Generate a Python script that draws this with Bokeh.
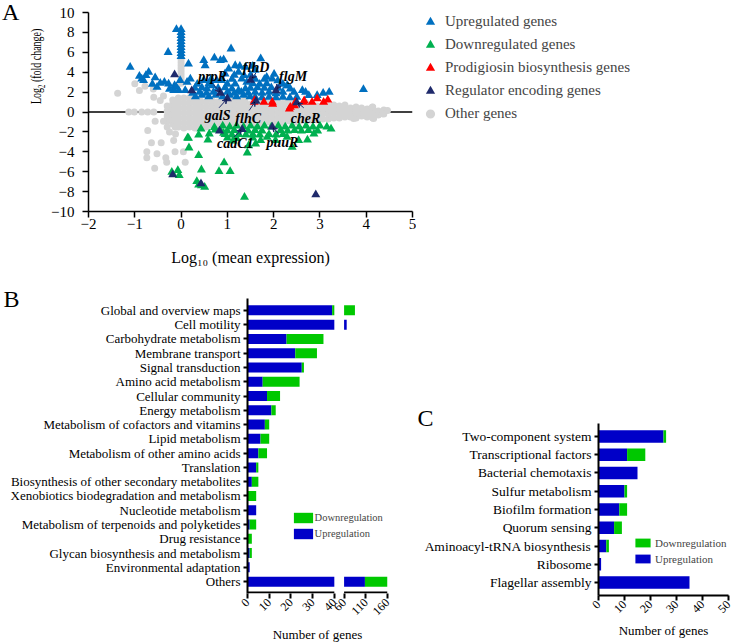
import math
from bokeh.plotting import figure
from bokeh.models import (Range1d, FactorRange, FixedTicker, Legend, LegendItem, Label,
                          Arrow, VeeHead, ColumnDataSource, Span, Spacer, Div)
from bokeh.layouts import column, row
from bokeh.embed import file_html
from bokeh.resources import INLINE

FONT = "Liberation Serif"
UP_C, DOWN_C, RED_C, NAVY_C, GREY_C = "#0070C0", "#00B050", "#FF0000", "#1F2A6B", "#D4D4D4"
BAR_UP, BAR_DOWN = "#0000C8", "#00C800"

# ---------------- Panel A data (log10 mean expression, log2 fold change) ----------------
other_cols_x = [-0.30, -0.18, -0.06, 0.06, 0.18, 0.30, 0.42, 0.54, 0.66, 0.78, 0.90, 1.02,
                1.14, 1.26, 1.38, 1.50, 1.62, 1.74, 1.86, 1.98, 2.10, 2.22, 2.34, 2.46,
                2.58, 2.70, 2.82, 2.94, 3.06, 3.18, 3.30, 3.42, 3.54, 3.66, 3.78, 3.90,
                4.02, 4.14, 4.26, 4.38]
other_cols_y = [
    [-0.9, -0.4, 0.1, 0.6], [-1.2, -0.7, -0.2, 0.3, 0.8, 1.2],
    [-1.5, -1.0, -0.5, 0.0, 0.5, 1.0, 1.4], [-1.6, -1.1, -0.6, -0.1, 0.4, 0.9, 1.4],
    [-1.5, -1.0, -0.5, 0.0, 0.5, 1.0, 1.4], [-1.6, -1.1, -0.6, -0.1, 0.4, 0.9, 1.3],
    [-1.4, -0.9, -0.4, 0.1, 0.6, 1.1], [-1.5, -1.0, -0.5, 0.0, 0.5, 1.0],
    [-1.3, -0.8, -0.3, 0.2, 0.7, 1.2], [-1.5, -1.0, -0.5, 0.0, 0.5, 1.0],
    [-1.3, -0.8, -0.3, 0.2, 0.7, 1.2], [-1.4, -0.9, -0.4, 0.1, 0.6, 1.1],
    [-1.2, -0.7, -0.2, 0.3, 0.8, 1.2], [-1.3, -0.8, -0.3, 0.2, 0.7, 1.1],
    [-1.1, -0.6, -0.1, 0.4, 0.9, 1.2], [-1.2, -0.7, -0.2, 0.3, 0.8],
    [-1.1, -0.6, -0.1, 0.4, 0.9], [-1.2, -0.7, -0.2, 0.3, 0.8, 1.1],
    [-1.0, -0.5, 0.0, 0.5, 1.0], [-1.1, -0.6, -0.1, 0.4, 0.9],
    [-1.0, -0.5, 0.0, 0.5, 1.0], [-1.1, -0.6, -0.1, 0.4, 0.9],
    [-0.9, -0.4, 0.1, 0.6, 1.0], [-1.0, -0.5, 0.0, 0.5, 0.9],
    [-0.9, -0.4, 0.1, 0.6], [-0.9, -0.4, 0.1, 0.5, 0.9],
    [-0.8, -0.3, 0.2, 0.7], [-0.8, -0.3, 0.1, 0.6],
    [-0.7, -0.2, 0.3, 0.7], [-0.7, -0.2, 0.2, 0.6],
    [-0.6, -0.1, 0.3, 0.7], [-0.6, -0.2, 0.2, 0.6],
    [-0.5, -0.1, 0.3, 0.7], [-0.5, 0.0, 0.4],
    [-0.6, -0.2, 0.2, 0.5], [-0.4, 0.0, 0.4],
    [-0.5, -0.1, 0.3], [-0.6, -0.2, 0.2, 0.5],
    [-0.3, 0.1], [-0.2, 0.2]]
other_extra = [(-1.37, 1.88), (-1.00, 2.85), (-0.90, 2.15), (-0.78, 2.60), (-0.60, 2.30),
               (-0.59, 1.49), (-0.45, 1.16), (-0.38, 1.60),
               (-1.13, 0.0), (-1.01, 0.0), (-0.85, 0.0), (-0.72, 0.0), (-0.59, 0.0),
               (-0.56, -0.92), (-0.38, -0.92), (-0.72, -1.86), (-0.13, -1.50), (-0.12, -2.20),
               (-0.64, -3.10), (-0.43, -3.10), (-0.74, -4.00), (-0.74, -4.60), (-0.52, -4.20),
               (-0.33, -4.60), (-0.13, -4.00), (-0.31, -5.05), (0.09, -5.05), (-0.57, -5.65),
               (0.05, -4.00), (-0.16, -2.86), (-0.30, -1.50), (-0.25, -2.00),
               (4.46, 0.15), (4.35, -0.18), (4.16, -0.65), (4.13, 0.48), (3.73, -0.65),
               (0.0, 2.9), (0.0, 3.2), (0.0, 3.5), (0.0, 3.8), (0.0, 4.1), (0.0, 4.4),
               (0.0, 4.7), (0.0, 5.0), (0.0, 5.3)]

up_pts = [(-0.10, 8.3), (0.00, 8.3), (0.00, 8.0), (0.00, 7.7), (0.00, 7.4), (0.00, 7.1),
          (0.00, 6.8), (0.00, 6.5), (0.00, 6.2), (0.00, 5.9), (0.00, 5.6),
          (-1.10, 4.5), (-0.28, 6.0), (-0.85, 3.33), (-0.76, 3.67), (-0.70, 4.0), (-0.81, 3.17),
          (-0.56, 3.44), (-0.52, 2.5), (-0.36, 3.0), (-0.27, 2.83), (-0.14, 2.66), (-0.02, 3.17),
          (0.13, 3.0), (0.20, 3.33), (0.16, 4.84), (0.49, 5.18), (0.52, 4.67), (0.72, 5.44),
          (0.85, 5.18), (0.92, 5.25), (1.08, 6.35), (0.49, 3.17), (0.56, 2.33), (0.67, 2.66),
          (0.77, 3.17), (0.88, 3.17), (0.95, 3.84), (1.03, 4.34), (1.17, 4.67), (1.24, 4.0),
          (1.39, 4.5), (1.42, 3.0), (1.31, 3.33), (1.17, 2.83), (1.10, 2.33), (1.24, 2.16),
          (1.39, 2.33), (-0.05, 2.16), (-0.16, 2.16), (0.09, 2.16),
          (-0.45, 2.9), (-0.62, 2.8), (-0.90, 3.6), (-0.25, 2.3), (-0.10, 2.5),
          (1.72, 5.35), (1.36, 3.67), (1.85, 3.5), (1.97, 3.33), (2.29, 2.66), (2.36, 2.33),
          (2.44, 2.0), (2.62, 2.16), (2.69, 2.0), (2.76, 1.66), (2.94, 1.66), (3.07, 1.89),
          (3.94, 2.26), (3.20, 2.0), (2.30, 2.65), (2.09, 3.15), (2.01, 3.8), (1.55, 4.6),
          (1.60, 4.2), (1.27, 4.6),
          (0.31, 1.55), (0.45, 1.7), (0.60, 1.55), (0.75, 1.7), (0.90, 1.55), (1.05, 1.7),
          (1.20, 1.55), (1.35, 1.7), (1.49, 1.55),
          (1.60, 1.5), (1.75, 1.45), (1.90, 1.5), (2.05, 1.45), (2.20, 1.5), (2.35, 1.45), (2.50, 1.5),
          (0.25, 1.9), (0.40, 2.0), (0.55, 1.9), (0.70, 2.0), (0.85, 1.95), (1.00, 2.0),
          (1.15, 1.9), (1.30, 2.0), (1.45, 1.9), (1.60, 2.0), (1.75, 1.9), (1.90, 2.0),
          (2.05, 1.85), (2.20, 2.0),
          (0.30, 2.4), (0.45, 2.45), (0.80, 2.4), (0.95, 2.45), (1.50, 2.4), (1.65, 2.45),
          (1.80, 2.4), (1.95, 2.45), (2.10, 2.4),
          (0.35, 2.8), (0.60, 2.85), (1.00, 2.8), (1.55, 2.85), (1.70, 2.8), (1.85, 2.85), (2.20, 2.8),
          (0.65, 3.3), (1.10, 3.3), (1.60, 3.3), (1.80, 3.3), (1.15, 3.7), (1.50, 3.7)]

down_pts = [(0.14, -2.6), (0.17, -3.6), (0.38, -2.3), (0.43, -1.7), (0.58, -2.8), (0.61, -2.19),
            (0.72, -1.55), (0.74, -1.79), (0.92, -2.13), (0.16, -2.63),
            (0.90, -1.4), (1.05, -1.5), (1.20, -1.4), (1.35, -1.5), (1.50, -1.4), (1.65, -1.5),
            (1.80, -1.4), (1.95, -1.5), (2.10, -1.4), (2.25, -1.5), (2.40, -1.4), (2.55, -1.5),
            (2.70, -1.4), (2.85, -1.5), (3.00, -1.4), (3.15, -1.5),
            (0.85, -1.85), (1.00, -1.9), (1.15, -1.85), (1.45, -1.9), (1.60, -1.85), (1.75, -1.9),
            (2.15, -1.85), (2.30, -1.9), (2.45, -1.85), (2.60, -1.9), (2.75, -1.85), (2.95, -1.9),
            (3.24, -1.7),
            (0.95, -2.25), (1.10, -2.3), (1.25, -2.25), (1.40, -2.3), (1.55, -2.25), (1.70, -2.3),
            (1.90, -2.25), (2.05, -2.3), (2.20, -2.25), (2.87, -2.19),
            (1.00, -2.6), (1.20, -2.65), (1.55, -2.6), (1.86, -2.53), (2.29, -2.53),
            (1.61, -3.2), (2.04, -2.86), (2.40, -3.54), (2.54, -2.86), (1.72, -2.86),
            (1.46, -3.37), (2.73, -2.8), (1.12, -2.9), (1.43, -4.1),
            (0.38, -4.37), (0.93, -5.1), (0.82, -5.98), (1.06, -5.98), (0.44, -5.81),
            (-0.20, -6.05), (-0.07, -5.88), (-0.04, -6.38), (0.34, -6.98), (0.44, -7.39),
            (0.51, -7.56), (0.38, -7.32), (1.37, -8.56)]

prodig_pts = [(1.59, 1.16), (1.79, 0.98), (1.97, 0.98), (1.98, 0.78), (2.36, 0.48), (2.34, 0.3),
              (2.45, 0.64), (2.47, 0.98), (2.65, 0.98), (2.66, 1.14), (2.83, 0.98), (2.94, 1.33),
              (3.08, 0.98), (3.17, 1.22), (1.58, 1.0)]

regulator_pts = [(-0.14, 3.75), (0.23, 2.15), (0.85, 1.9), (1.50, 3.2), (2.05, 2.15), (1.00, 1.35),
                 (1.62, 1.1), (2.50, 0.95), (0.83, -1.9), (1.32, -1.75), (1.97, -1.5),
                 (-0.18, -6.3), (0.43, -7.2), (2.91, -8.3)]

gene_names = ["prpR", "flhD", "flgM", "galS", "flhC", "cheR", "cadC1", "puuR"]
gene_label_x = [0.68, 1.62, 2.42, 0.79, 1.45, 2.69, 1.17, 2.19]
gene_label_y = [3.6, 4.5, 3.6, -0.35, -0.65, -0.65, -3.17, -3.07]
gene_arrow_x0 = [0.70, 1.62, 2.15, 0.82, 1.47, 2.65, 1.14, 2.11]
gene_arrow_y0 = [2.76, 3.95, 2.98, 0.42, 0.15, 0.42, -2.53, -2.19]
gene_arrow_x1 = [0.85, 1.52, 2.06, 1.00, 1.61, 2.51, 1.32, 1.97]
gene_arrow_y1 = [1.95, 3.30, 2.25, 1.35, 1.10, 0.98, -1.72, -1.48]

a_xticks = [-2, -1, 0, 1, 2, 3, 4, 5]
a_yticks = [-10, -8, -6, -4, -2, 0, 2, 4, 6, 8, 10]
a_legend = ["Upregulated genes", "Downregulated genes", "Prodigiosin biosynthesis genes",
            "Regulator encoding genes", "Other genes"]

# ---------------- Panel B data ----------------
b_cats = ["Global and overview maps", "Cell motility", "Carbohydrate metabolism",
          "Membrane transport", "Signal transduction", "Amino acid metabolism",
          "Cellular community", "Energy metabolism", "Metabolism of cofactors and vitamins",
          "Lipid metabolism", "Metabolism of other amino acids", "Translation",
          "Biosynthesis of other secondary metabolites", "Xenobiotics biodegradation and metabolism",
          "Nucleotide metabolism", "Metabolism of terpenoids and polyketides", "Drug resistance",
          "Glycan biosynthesis and metabolism", "Environmental adaptation", "Others"]
b_up = [39, 66, 18, 22, 25, 7, 9, 11, 8, 6, 5, 4, 2, 0, 4, 1, 0, 1, 1, 108]
b_down = [46, 0, 17, 10, 1, 17, 6, 2, 2, 4, 4, 1, 3, 4, 0, 3, 2, 1, 0, 52]
b_ticks = [0, 10, 20, 30, 40, 60, 110, 160]

# ---------------- Panel C data ----------------
c_cats = ["Two-component system", "Transcriptional factors", "Bacterial chemotaxis",
          "Sulfur metabolism", "Biofilm formation", "Quorum sensing",
          "Aminoacyl-tRNA biosynthesis", "Ribosome", "Flagellar assembly"]
c_up = [25, 11, 15, 10, 8, 6, 3, 1, 35]
c_down = [1, 7, 0, 1, 3, 3, 1, 0, 0]
c_ticks = [0, 10, 20, 30, 40, 50]


def style_axis(ax, lw, tick_font, size_out=5):
    ax.axis_line_width = lw
    ax.axis_line_color = "black"
    ax.major_tick_line_width = lw
    ax.major_tick_out = size_out
    ax.major_tick_in = 0
    ax.minor_tick_line_color = None
    ax.major_label_text_font = FONT
    ax.major_label_text_font_size = tick_font
    ax.major_label_text_color = "black"
    ax.axis_label_text_font = FONT
    ax.axis_label_text_font_style = "normal"
    ax.axis_label_text_color = "black"


def style_title(p, letter, offset, standoff):
    p.title.text = letter
    p.title.text_font = FONT
    p.title.text_font_size = "24px"
    p.title.text_font_style = "normal"
    p.title.text_color = "black"
    p.title.align = "left"
    p.title.vertical_align = "bottom"
    p.title.offset = offset
    p.title.standoff = standoff


# ================= Panel A =================
pA = figure(width=370, height=280, x_range=Range1d(-2, 5), y_range=Range1d(-10, 10),
            output_backend="svg", toolbar_location=None,
            min_border_left=42, min_border_right=4, min_border_top=12, min_border_bottom=69)
pA.outline_line_color = None
pA.grid.visible = False

pA.add_layout(Span(location=0, dimension="width", line_color="black", line_width=1.5, level="underlay"))

ox, oy = [], []
for x, ys in zip(other_cols_x, other_cols_y):
    for y in ys:
        ox.append(x)
        oy.append(y)
for x, y in other_extra:
    ox.append(x)
    oy.append(y)

MARKS = [("triangle", UP_C), ("triangle", DOWN_C), ("triangle", RED_C), ("triangle", NAVY_C),
         ("circle", GREY_C)]

pA.scatter(ox, oy, marker="circle", size=7, fill_color=GREY_C, line_color=None)
for pts, col in [(up_pts, UP_C), (down_pts, DOWN_C), (prodig_pts, RED_C), (regulator_pts, NAVY_C)]:
    pA.scatter([p[0] for p in pts], [p[1] for p in pts], marker="triangle", size=9,
               fill_color=col, line_color=None)

for i, name in enumerate(gene_names):
    pA.add_layout(Arrow(end=VeeHead(size=5, line_color=NAVY_C, line_width=1),
                        x_start=gene_arrow_x0[i], y_start=gene_arrow_y0[i],
                        x_end=gene_arrow_x1[i], y_end=gene_arrow_y1[i],
                        line_color=NAVY_C, line_width=1))
    pA.add_layout(Label(x=gene_label_x[i], y=gene_label_y[i], text=name, text_font=FONT,
                        text_font_size="14px", text_font_style="bold italic",
                        text_align="center", text_baseline="middle", text_color="black"))

xa = pA.xaxis[0]
style_axis(xa, 1.5, "15px", 6)
xa.ticker = FixedTicker(ticks=a_xticks)
xa.major_label_standoff = 1
xa.axis_label = "Log₁₀ (mean expression)"
xa.axis_label_text_font_size = "16px"
xa.axis_label_standoff = 17
ya = pA.yaxis[0]
style_axis(ya, 1.5, "15px", 6)
ya.ticker = FixedTicker(ticks=a_yticks)
ya.major_label_standoff = 8

# panel letter and the y-axis title of panel A (placed high on the axis, as in the figure)
divA = Div(width=46, height=280, margin=0, text=(
    '<div style="position:relative;width:46px;height:280px;font-family:\'Liberation Serif\';color:black">'
    '<div style="position:absolute;left:2px;top:0px;font-size:24px;line-height:24px">A</div>'
    '<div style="position:absolute;left:27px;top:104px;transform-origin:0 0;'
    'transform:rotate(-90deg) scaleX(0.665);font-size:15px;line-height:18px;white-space:nowrap">'
    'Log<sub style="font-size:10px">2</sub> (fold change)</div></div>'))

# legend of panel A in its own frame (right of the scatter); the key glyphs sit off-range
pL = figure(width=317, height=280, x_range=Range1d(0, 1), y_range=Range1d(0, 1),
            x_axis_type=None, y_axis_type=None, output_backend="svg", toolbar_location=None,
            min_border=0, min_border_left=0, min_border_right=0, min_border_top=0, min_border_bottom=0)
pL.outline_line_color = None
pL.grid.visible = False
leg_items = []
for label, (mk, col) in zip(a_legend, MARKS):
    r = pL.scatter(x=[-5], y=[-5], marker=mk, size=9, fill_color=col, line_color=None)
    leg_items.append(LegendItem(label=label, renderers=[r]))
legA = Legend(items=leg_items, location=(0, 155), orientation="vertical", glyph_width=28,
              glyph_height=23, spacing=0, padding=0, margin=0, label_standoff=1, label_height=23,
              label_text_font=FONT, label_text_font_size="15px",
              background_fill_alpha=0, border_line_color=None)
pL.add_layout(legA)

# ================= Panel B (broken axis) =================
B_GAP = 4.5
B_K = 0.2


def brk(v):
    return v if v <= 40 else 40 + B_GAP + (v - 60) * B_K


def pieces(lo, hi):
    out = []
    if hi <= lo:
        return out
    if lo < 40:
        out.append((brk(lo), brk(min(hi, 40))))
    if hi > 60:
        out.append((brk(max(lo, 60)), brk(hi)))
    return out


def bar_sources(cats, ups, downs, breaker):
    up_s = dict(y=[], left=[], right=[])
    dn_s = dict(y=[], left=[], right=[])
    for c, u, d in zip(cats, ups, downs):
        for a, b in breaker(0, u):
            up_s["y"].append(c); up_s["left"].append(a); up_s["right"].append(b)
        for a, b in breaker(u, u + d):
            dn_s["y"].append(c); dn_s["left"].append(a); dn_s["right"].append(b)
    return ColumnDataSource(up_s), ColumnDataSource(dn_s)


B_H = 364
B_PAD = 0.033
pB = figure(width=398, height=B_H, x_range=Range1d(0, brk(160)),
            y_range=FactorRange(factors=list(reversed(b_cats)), range_padding=B_PAD),
            output_backend="svg", toolbar_location=None,
            min_border_left=247, min_border_right=11, min_border_top=18, min_border_bottom=48)
pB.outline_line_color = None
pB.grid.visible = False
style_title(pB, "B", -244, -26)
upB, dnB = bar_sources(b_cats, b_up, b_down, pieces)
rbu = pB.hbar(y="y", left="left", right="right", height=0.7, source=upB, fill_color=BAR_UP, line_color=None)
rbd = pB.hbar(y="y", left="left", right="right", height=0.7, source=dnB, fill_color=BAR_DOWN, line_color=None)
# broken x-axis line: one segment per axis part, just above the frame's bottom edge
axis_y = (b_cats[-1], -0.5 - B_PAD * len(b_cats) / 2 + 0.07)
pB.segment(x0=[brk(0), brk(60)], x1=[brk(40), brk(160)], y0=[axis_y, axis_y], y1=[axis_y, axis_y],
           line_color="black", line_width=2)
xb = pB.xaxis[0]
style_axis(xb, 2, "12px", 5)
xb.axis_line_color = None
xb.ticker = FixedTicker(ticks=[brk(t) for t in b_ticks])
xb.major_label_overrides = {brk(t): str(t) for t in b_ticks}
xb.major_label_orientation = math.pi / 4
xb.major_label_standoff = 2
xb.axis_label = "Number of genes"
xb.axis_label_text_font_size = "13px"
xb.axis_label_standoff = 5
yb = pB.yaxis[0]
style_axis(yb, 2, "13px", 4)
yb.major_label_standoff = 3
legB = Legend(items=[LegendItem(label="Downregulation", renderers=[rbd]),
                     LegendItem(label="Upregulation", renderers=[rbu])],
              location=(43.6, 53), glyph_width=24, glyph_height=13, spacing=3, padding=0, margin=0,
              label_standoff=0, label_text_font=FONT, label_text_font_size="10.5px",
              label_height=13, background_fill_alpha=0, border_line_color=None)
pB.add_layout(legB)

# ================= Panel C =================


def plain(lo, hi):
    return [(lo, hi)] if hi > lo else []


C_H = 241
pC = figure(width=335, height=C_H, x_range=Range1d(0, 50),
            y_range=FactorRange(factors=list(reversed(c_cats)), range_padding=0.047),
            output_backend="svg", toolbar_location=None,
            min_border_left=200, min_border_right=5, min_border_top=20, min_border_bottom=49)
pC.outline_line_color = None
pC.grid.visible = False
style_title(pC, "C", -181, -14)
upC, dnC = bar_sources(c_cats, c_up, c_down, plain)
rcu = pC.hbar(y="y", left="left", right="right", height=0.68, source=upC, fill_color=BAR_UP, line_color=None)
rcd = pC.hbar(y="y", left="left", right="right", height=0.68, source=dnC, fill_color=BAR_DOWN, line_color=None)
xc = pC.xaxis[0]
style_axis(xc, 2, "12px", 5)
xc.ticker = FixedTicker(ticks=c_ticks)
xc.major_label_orientation = math.pi / 4
xc.major_label_standoff = 2
xc.axis_label = "Number of genes"
xc.axis_label_text_font_size = "13px"
xc.axis_label_standoff = 3
yc = pC.yaxis[0]
style_axis(yc, 2, "13.5px", 4)
yc.major_label_standoff = 3
legC = Legend(items=[LegendItem(label="Downregulation", renderers=[rcd]),
                     LegendItem(label="Upregulation", renderers=[rcu])],
              location=(35, 30), glyph_width=19, glyph_height=11, spacing=3, padding=0, margin=0,
              label_standoff=3, label_text_font=FONT, label_text_font_size="11px",
              label_height=13, background_fill_alpha=0, border_line_color=None)
pC.add_layout(legC)

top_row = row(divA, pA, column(pL, spacing=0), spacing=0)
bottom_row = row(pB, column(Spacer(width=335, height=B_H - C_H), pC, spacing=0), spacing=0)
layout = column(top_row, bottom_row, spacing=0)
open("out.html", "w").write(file_html(layout, INLINE))
